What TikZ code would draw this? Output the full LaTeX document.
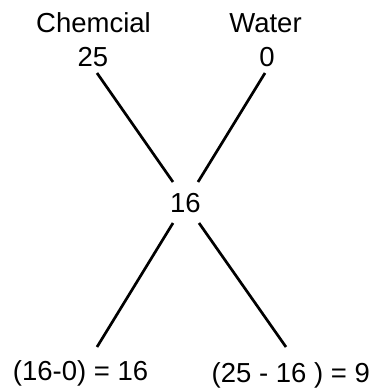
\documentclass[tikz,border=0pt]{standalone}
\usepackage{fontspec}
\setmainfont{Liberation Sans}
\begin{document}
\begin{tikzpicture}[x=1pt,y=-1pt,
  lbl/.style={inner sep=0pt,anchor=base,font=\fontsize{27.5}{33}\selectfont},
  conn/.style={line width=2.7pt,black}]
\useasboundingbox (0,0) rectangle (376,389);
\node[lbl] (chem) at (93.5,32.5) {Chemcial};
\node[lbl] (c25) at (93,66) {25};
\node[lbl] (water) at (265.5,32.5) {Water};
\node[lbl] (w0) at (267,66) {0};
\node[lbl] (mid) at (185.5,212) {16};
\node[lbl] (bl) at (80.5,380) {(16-0) = 16};
\node[lbl,anchor=base west] (br) at (211.5,382.5) {(25 - 16 ) = 9};
\coordinate (a1) at (97,73);
\coordinate (a2) at (173,182);
\coordinate (b1) at (265,73);
\coordinate (b2) at (198,182);
\coordinate (c1) at (173,223);
\coordinate (c2) at (97,347);
\coordinate (d1) at (199,223);
\coordinate (d2) at (286,347);
\draw[conn] (a1) -- (a2);
\draw[conn] (b1) -- (b2);
\draw[conn] (c1) -- (c2);
\draw[conn] (d1) -- (d2);
\end{tikzpicture}
\end{document}
